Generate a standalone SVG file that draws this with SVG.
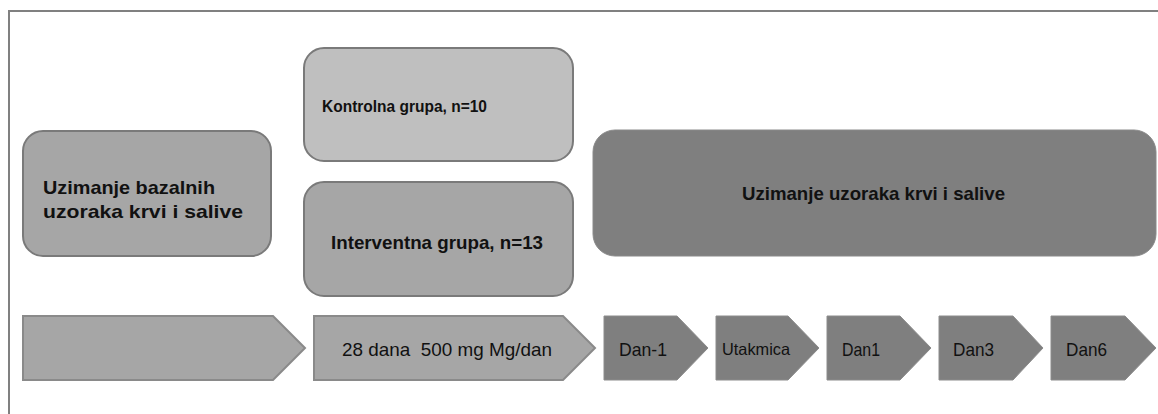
<svg xmlns="http://www.w3.org/2000/svg" width="1158" height="414" viewBox="0 0 1158 414">
<style>
.t{font-family:"Liberation Sans",Arial,sans-serif;fill:#111;}
.b{font-weight:bold;font-size:19px;}
.n{font-size:18.5px;}
.box{stroke:#7a7a7a;stroke-width:2;}
.light{fill:#a6a6a6;}
.lighter{fill:#bfbfbf;}
.dark{fill:#7f7f7f;}
.arl{fill:#a6a6a6;stroke:#8a8a8a;stroke-width:2;}
.ard{fill:#7f7f7f;stroke:#8c8c8c;stroke-width:1;}
</style>
<rect x="9" y="11" width="1160" height="420" fill="#fff" stroke="#808080" stroke-width="2"/>
<g id="baseline">
<rect class="box light" x="23" y="131" width="248" height="125" rx="20"/>
<text class="t b" x="43" y="194" textLength="172" lengthAdjust="spacingAndGlyphs">Uzimanje bazalnih</text>
<text class="t b" x="43" y="218" textLength="200" lengthAdjust="spacingAndGlyphs">uzoraka krvi i salive</text>
</g>
<g id="kontrolna">
<rect class="box lighter" x="304" y="48" width="269" height="113" rx="20"/>
<text class="t b" x="322" y="112" style="font-size:17px" textLength="165" lengthAdjust="spacingAndGlyphs">Kontrolna grupa, n=10</text>
</g>
<g id="interventna">
<rect class="box light" x="304" y="182" width="269" height="114" rx="20"/>
<text class="t b" x="331" y="249" textLength="212" lengthAdjust="spacingAndGlyphs">Interventna grupa, n=13</text>
</g>
<g id="sampling">
<rect class="dark" x="593" y="130" width="563" height="126" rx="22" stroke="#8a8a8a" stroke-width="1"/>
<text class="t b" x="742" y="200" textLength="263" lengthAdjust="spacingAndGlyphs">Uzimanje uzoraka krvi i salive</text>
</g>
<g id="connectors">
<g id="arrow-baseline"><polygon class="arl" points="23,316 273,316 305,348 273,380 23,380"/></g>
<g id="arrow-intervention"><polygon class="arl" points="314,316 563,316 595,348 563,380 314,380"/>
<text class="t n" x="342" y="356" xml:space="preserve" style="white-space:pre" textLength="210" lengthAdjust="spacingAndGlyphs">28 dana  500 mg Mg/dan</text></g>
<g id="arrow-dan-1"><polygon class="ard" points="604,316 677,316 708,348 677,380 604,380"/>
<text class="t n" x="619" y="356" textLength="48" lengthAdjust="spacingAndGlyphs">Dan-1</text></g>
<g id="arrow-utakmica"><polygon class="ard" points="716,316 788,316 819,348 788,380 716,380"/>
<text class="t" font-size="16.5" x="722" y="355" textLength="68" lengthAdjust="spacingAndGlyphs">Utakmica</text></g>
<g id="arrow-dan1"><polygon class="ard" points="827,316 900,316 931,348 900,380 827,380"/>
<text class="t n" x="842" y="356" textLength="38" lengthAdjust="spacingAndGlyphs">Dan1</text></g>
<g id="arrow-dan3"><polygon class="ard" points="939,316 1013,316 1043,348 1013,380 939,380"/>
<text class="t n" x="953" y="356" textLength="41" lengthAdjust="spacingAndGlyphs">Dan3</text></g>
<g id="arrow-dan6"><polygon class="ard" points="1051,316 1125,316 1156,348 1125,380 1051,380"/>
<text class="t n" x="1066" y="356" textLength="41" lengthAdjust="spacingAndGlyphs">Dan6</text></g>
</g>
</svg>
